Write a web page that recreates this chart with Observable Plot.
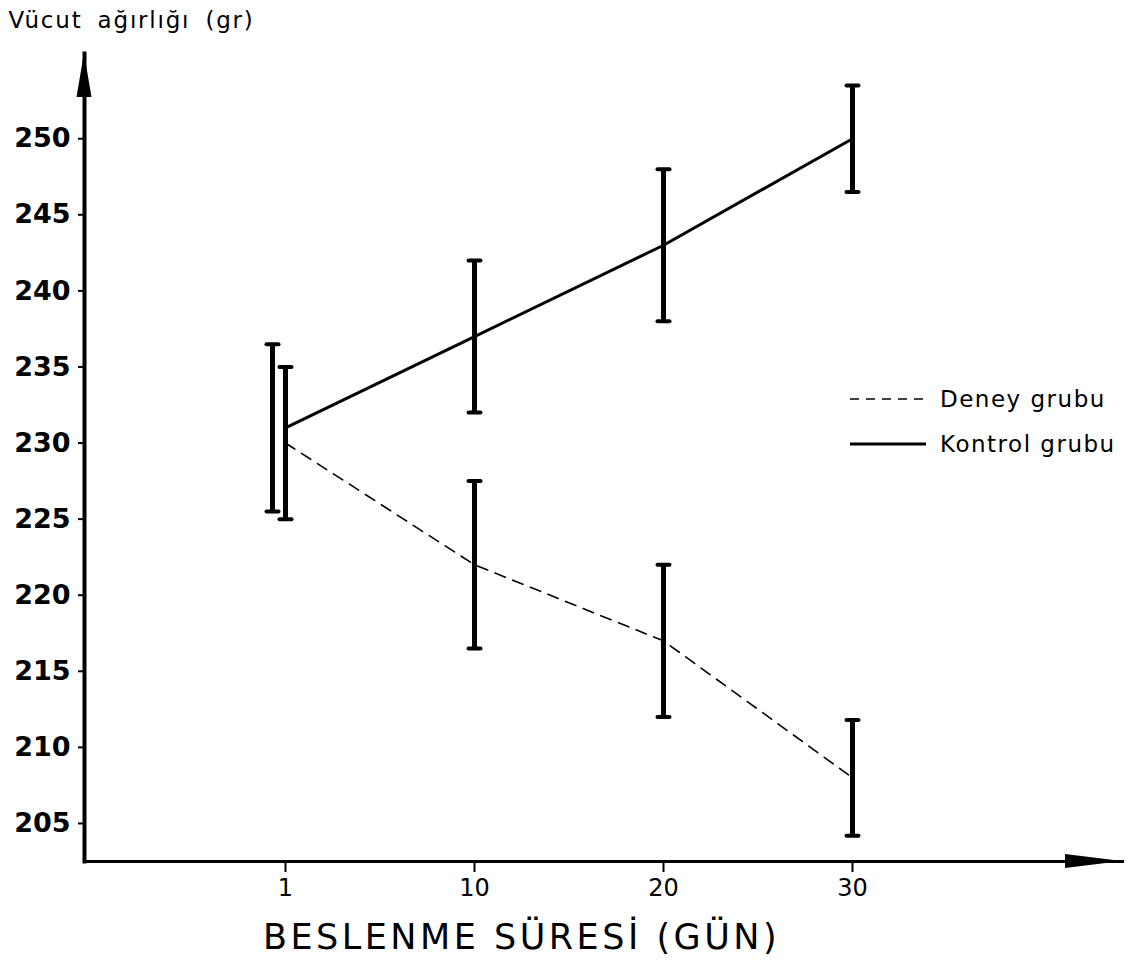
<!DOCTYPE html>
<html>
<head>
<meta charset="utf-8">
<script src="https://cdn.jsdelivr.net/npm/d3@7"></script>
<script src="https://cdn.jsdelivr.net/npm/@observablehq/plot@0.6"></script>
<style>
  body { margin: 0; background: #fff; }
  #wrap { position: relative; width: 1130px; height: 968px; font-family: 'DejaVu Sans', sans-serif; }
  .legend { position: absolute; left: 850px; display: flex; align-items: center; font-size: 23px; letter-spacing: 1.5px; color: #000; }
  .legend svg { margin-right: 14px; }
</style>
</head>
<body>
<div id="wrap"></div>
<script>
// ---- data ----
const days = ["1", "10", "20", "30"];
const groups = ["Deney grubu", "Kontrol grubu"];
const deneyMean = [230, 222, 217, 208];
const deneySd = [5, 5.5, 5, 3.8];
const kontrolMean = [231, 237, 243, 250];
const kontrolSd = [5.5, 5, 5, 3.5];
const yTicks = [205, 210, 215, 220, 225, 230, 235, 240, 245, 250];
const yLabel = "Vücut ağırlığı (gr)";
const xLabel = "BESLENME SÜRESİ (GÜN)";

// ---- build table ----
const rows = [];
days.forEach((d, i) => {
  rows.push({day: d, group: groups[0], mean: deneyMean[i], lo: deneyMean[i] - deneySd[i], hi: deneyMean[i] + deneySd[i]});
  rows.push({day: d, group: groups[1], mean: kontrolMean[i], lo: kontrolMean[i] - kontrolSd[i], hi: kontrolMean[i] + kontrolSd[i]});
});
const deney = rows.filter(r => r.group === groups[0]);
const kontrol = rows.filter(r => r.group === groups[1]);
const shifted = r => r.group === groups[1] && r.day === days[0];
const barsMain = rows.filter(r => !shifted(r));
const barsShift = rows.filter(shifted);

const cap = {draw(ctx, size) { const r = Math.sqrt(size / Math.PI); ctx.moveTo(-r, 0); ctx.lineTo(r, 0); }};

const W = 1130, H = 968, ML = 84, MR = 8, MT = 53, MB = 107;
const font = "'DejaVu Sans', sans-serif";

const barMarks = (data, dx) => [
  Plot.ruleX(data, {x: "day", y1: "lo", y2: "hi", stroke: "black", strokeWidth: 5, dx}),
  Plot.dot(data, {x: "day", y: "lo", symbol: cap, r: 6, stroke: "black", strokeWidth: 4, strokeLinecap: "round", dx}),
  Plot.dot(data, {x: "day", y: "hi", symbol: cap, r: 6, stroke: "black", strokeWidth: 4, strokeLinecap: "round", dx})
];

const chart = Plot.plot({
  width: W, height: H,
  marginLeft: ML, marginRight: MR, marginTop: MT, marginBottom: MB,
  style: {fontFamily: font, background: "white", color: "black", overflow: "visible"},
  x: {type: "point", domain: days, range: [284, 852], padding: 0},
  y: {domain: [202.5, 255.6]},
  marks: [
    Plot.frame({anchor: "left", stroke: "black", strokeWidth: 4}),
    Plot.frame({anchor: "bottom", stroke: "black", strokeWidth: 3}),
    Plot.axisY(yTicks, {tickSize: 6, tickPadding: 8, fontSize: 27, fontWeight: "bold", strokeWidth: 2, label: null}),
    Plot.axisX(days, {tickSize: 11, tickPadding: 6, fontSize: 24, strokeWidth: 2, label: null}),
    Plot.line(kontrol, {x: "day", y: "mean", stroke: "black", strokeWidth: 3}),
    Plot.line(deney, {x: "day", y: "mean", stroke: "black", strokeWidth: 1.6, strokeDasharray: "11,8"}),
    ...barMarks(barsMain, 0),
    ...barMarks(barsShift, -13),
    Plot.text([yLabel], {frameAnchor: "top-left", dx: -76, dy: -33, textAnchor: "start", lineAnchor: "middle", fontSize: 23}),
    Plot.text([xLabel], {frameAnchor: "bottom", dx: -82, dy: 76, lineAnchor: "middle", fontSize: 35})
  ]
});

const svg = d3.select(chart);
// letter spacing for the axis titles
svg.selectAll("text").filter(function () { return this.textContent === yLabel; })
  .style("letter-spacing", "1.8px").style("word-spacing", "6px");
svg.selectAll("text").filter(function () { return this.textContent === xLabel; })
  .style("letter-spacing", "3.5px");

// axis arrowheads
svg.append("path").attr("d", `M${ML},${MT} L${ML - 7.5},${MT + 44} L${ML + 7.5},${MT + 44} Z`).attr("fill", "black");
svg.append("path").attr("d", `M${W - MR},${H - MB} L${W - MR - 57},${H - MB - 7} L${W - MR - 57},${H - MB + 7} Z`).attr("fill", "black");

const wrap = document.getElementById("wrap");
wrap.appendChild(chart);

// legend
const legendItems = [
  {label: groups[0], dash: "9,7", width: 1.6, top: 386},
  {label: groups[1], dash: null, width: 3, top: 431}
];
for (const it of legendItems) {
  const div = document.createElement("div");
  div.className = "legend";
  div.style.top = it.top + "px";
  div.innerHTML = `<svg width="76" height="10"><line x1="0" y1="5" x2="76" y2="5" stroke="black" stroke-width="${it.width}" ${it.dash ? `stroke-dasharray="${it.dash}"` : ""}/></svg><span>${it.label}</span>`;
  wrap.appendChild(div);
}
</script>
</body>
</html>
